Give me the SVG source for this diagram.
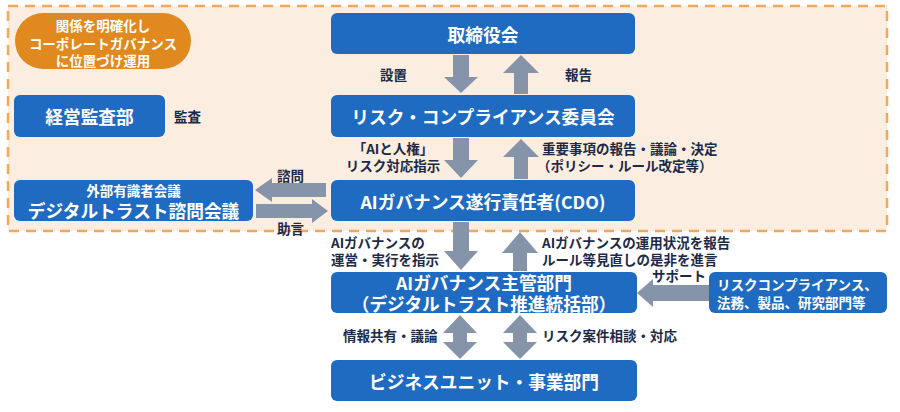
<svg xmlns="http://www.w3.org/2000/svg" width="900" height="412" viewBox="0 0 900 412">
<style>
.box{fill:#1f6bc1}
.bt{fill:#fff;font-family:"Noto Sans CJK JP","Noto Sans",sans-serif;font-weight:700;font-size:17.7px;text-anchor:middle;dominant-baseline:central}
.st{fill:#fff;font-family:"Noto Sans CJK JP","Noto Sans",sans-serif;font-weight:700;font-size:13.5px;dominant-baseline:central}
.lb{fill:#1c2a48;font-family:"Noto Sans CJK JP","Noto Sans",sans-serif;font-weight:700;font-size:13.5px;dominant-baseline:central}
.ar{fill:#8694a9}
</style>
<rect x="8" y="6" width="879" height="225" fill="#fbeee0" stroke="#f0a95a" stroke-width="2.5" stroke-dasharray="10,7"/>

<g id="governance-note">
<rect x="15" y="13" width="176" height="56" rx="28" fill="#e0891f"/>
<text class="st" x="103" y="25" text-anchor="middle">関係を明確化し</text>
<text class="st" x="103" y="42.5" text-anchor="middle">コーポレートガバナンス</text>
<text class="st" x="103" y="60" text-anchor="middle">に位置づけ運用</text>
</g>

<g id="board">
<rect class="box" x="331" y="13" width="304" height="41" rx="6"/>
<text class="bt" x="483" y="33.5">取締役会</text>
</g>
<g id="audit">
<rect class="box" x="14" y="95" width="151" height="42" rx="6"/>
<text class="bt" x="89.5" y="116">経営監査部</text>
</g>
<g id="risk-committee">
<rect class="box" x="331" y="95" width="304" height="42" rx="6"/>
<text class="bt" x="483" y="116">リスク・コンプライアンス委員会</text>
</g>
<g id="advisory">
<rect class="box" x="14" y="180" width="239" height="41" rx="6"/>
<text class="st" x="133.5" y="190" text-anchor="middle">外部有識者会議</text>
<text class="bt" x="133.5" y="210">デジタルトラスト諮問会議</text>
</g>
<g id="cdo">
<rect class="box" x="331" y="180" width="304" height="41" rx="6"/>
<text class="bt" x="483" y="200.5">AIガバナンス遂行責任者(CDO)</text>
</g>
<g id="ai-dept">
<rect class="box" x="331" y="272" width="306" height="41" rx="6"/>
<text class="bt" x="484" y="282">AIガバナンス主管部門</text>
<text class="bt" x="484" y="303">（デジタルトラスト推進統括部）</text>
</g>
<g id="support-depts">
<rect class="box" x="709" y="272" width="178" height="41" rx="6"/>
<text class="st" x="717" y="284">リスクコンプライアンス、</text>
<text class="st" x="717" y="302">法務、製品、研究部門等</text>
</g>
<g id="business">
<rect class="box" x="331" y="360" width="306" height="41" rx="6"/>
<text class="bt" x="484" y="380.5">ビジネスユニット・事業部門</text>
</g>

<g id="connectors">
<polygon class="ar" points="453,55 469,55 469,77 478,77 461,93 444,77 453,77"/>
<polygon class="ar" points="521,55 539,73 528,73 528,94 514,94 514,73 503,73"/>
<polygon class="ar" points="453,138 469,138 469,160 478,160 461,178 444,160 453,160"/>
<polygon class="ar" points="521,139 539,157 528,157 528,179 514,179 514,157 503,157"/>
<polygon class="ar" points="453,222 469,222 469,251 478,251 461,270 444,251 453,251"/>
<polygon class="ar" points="520,232 538,253 527,253 527,271 513,271 513,253 502,253"/>
<polygon class="ar" points="460,315 477,333 467,333 467,342 477,342 460,359 443,342 453,342 453,333 443,333"/>
<polygon class="ar" points="520,315 537,333 527,333 527,342 537,342 520,359 503,342 513,342 513,333 503,333"/>
<polygon class="ar" points="255,190 272,178 272,183 326,183 326,197 272,197 272,202"/>
<polygon class="ar" points="328,211 312,199 312,204 256,204 256,218 312,218 312,223"/>
<polygon class="ar" points="637,293 653,279 653,285 709,285 709,301 653,301 653,307"/>
<text class="lb" x="380" y="74">設置</text>
<text class="lb" x="565" y="74">報告</text>
<text class="lb" x="174" y="116">監査</text>
<text class="lb" x="393" y="148" text-anchor="middle">「AIと人権」</text>
<text class="lb" x="393" y="165" text-anchor="middle">リスク対応指示</text>
<text class="lb" x="542" y="148">重要事項の報告・議論・決定</text>
<text class="lb" x="537" y="165">（ポリシー・ルール改定等）</text>
<text class="lb" x="277" y="175">諮問</text>
<text class="lb" x="277" y="228">助言</text>
<text class="lb" x="331" y="242">AIガバナンスの</text>
<text class="lb" x="331" y="259">運営・実行を指示</text>
<text class="lb" x="542" y="241.5">AIガバナンスの運用状況を報告</text>
<text class="lb" x="542" y="258.5">ルール等見直しの是非を進言</text>
<text class="lb" x="652" y="275">サポート</text>
<text class="lb" x="343" y="335">情報共有・議論</text>
<text class="lb" x="542" y="335">リスク案件相談・対応</text>
</g>
</svg>
